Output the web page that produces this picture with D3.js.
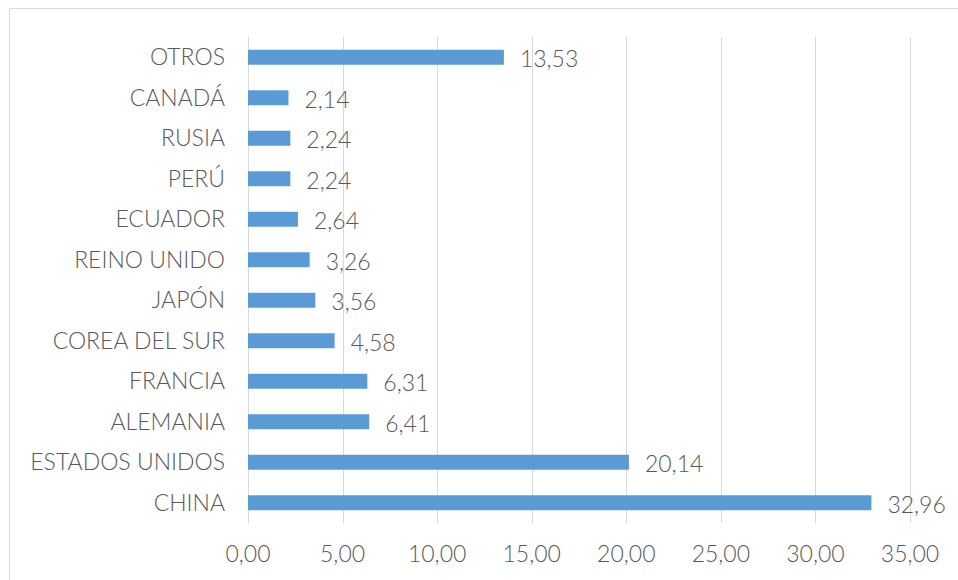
<html>
<head>
<meta charset="utf-8">
<style>
  body { margin: 0; background: #fff; }
  text { font-family: "Lato", "Open Sans", sans-serif; font-weight: 300; fill: #595959; }
</style>
</head>
<body>
<svg width="958" height="580"></svg>
<script src="https://cdn.jsdelivr.net/npm/d3@7/dist/d3.min.js"></script>
<script>
const paises = ['OTROS', 'CANADÁ', 'RUSIA', 'PERÚ', 'ECUADOR', 'REINO UNIDO', 'JAPÓN',
                'COREA DEL SUR', 'FRANCIA', 'ALEMANIA', 'ESTADOS UNIDOS', 'CHINA'];
const valores = [13.53, 2.14, 2.24, 2.24, 2.64, 3.26, 3.56, 4.58, 6.31, 6.41, 20.14, 32.96];
const ticks = [0, 5, 10, 15, 20, 25, 30, 35];

const svg = d3.select('svg');
const fmt = v => d3.format('.2f')(v).replace('.', ',');

// marco del gráfico
svg.append('rect')
    .attr('x', 9.5).attr('y', 8.5)
    .attr('width', 960).attr('height', 600)
    .attr('fill', 'none').attr('stroke', '#d9d9d9');

const x = d3.scaleLinear().domain([0, 35]).range([248, 910]);
const y = d3.scaleBand().domain(paises).range([37, 523]).paddingInner(0.63).paddingOuter(0.315);

const g = svg.append('g');

g.selectAll('.grid')
    .data(ticks)
    .enter().append('line')
    .attr('x1', d => Math.round(x(d)) + 0.5)
    .attr('x2', d => Math.round(x(d)) + 0.5)
    .attr('y1', 37).attr('y2', 523)
    .attr('stroke', '#d9d9d9')
    .attr('stroke-width', 1);

g.selectAll('.tick-label')
    .data(ticks)
    .enter().append('text')
    .attr('x', d => x(d))
    .attr('y', 562)
    .attr('text-anchor', 'middle')
    .attr('font-size', 23)
    .text(d => fmt(d));

const datos = paises.map((p, i) => ({ pais: p, valor: valores[i] }));

g.selectAll('.bar')
    .data(datos)
    .enter().append('rect')
    .attr('x', x(0))
    .attr('y', d => y(d.pais))
    .attr('width', d => x(d.valor) - x(0))
    .attr('height', y.bandwidth())
    .attr('fill', '#5b9bd5');

g.selectAll('.cat')
    .data(datos)
    .enter().append('text')
    .attr('x', 225)
    .attr('y', d => y(d.pais) + y.bandwidth() / 2 + 8)
    .attr('text-anchor', 'end')
    .attr('font-size', 23)
    .text(d => d.pais);

g.selectAll('.val')
    .data(datos)
    .enter().append('text')
    .attr('x', d => x(d.valor) + 16)
    .attr('y', d => y(d.pais) + y.bandwidth() / 2 + 10)
    .attr('font-size', 23)
    .text(d => fmt(d.valor));
</script>
</body>
</html>
